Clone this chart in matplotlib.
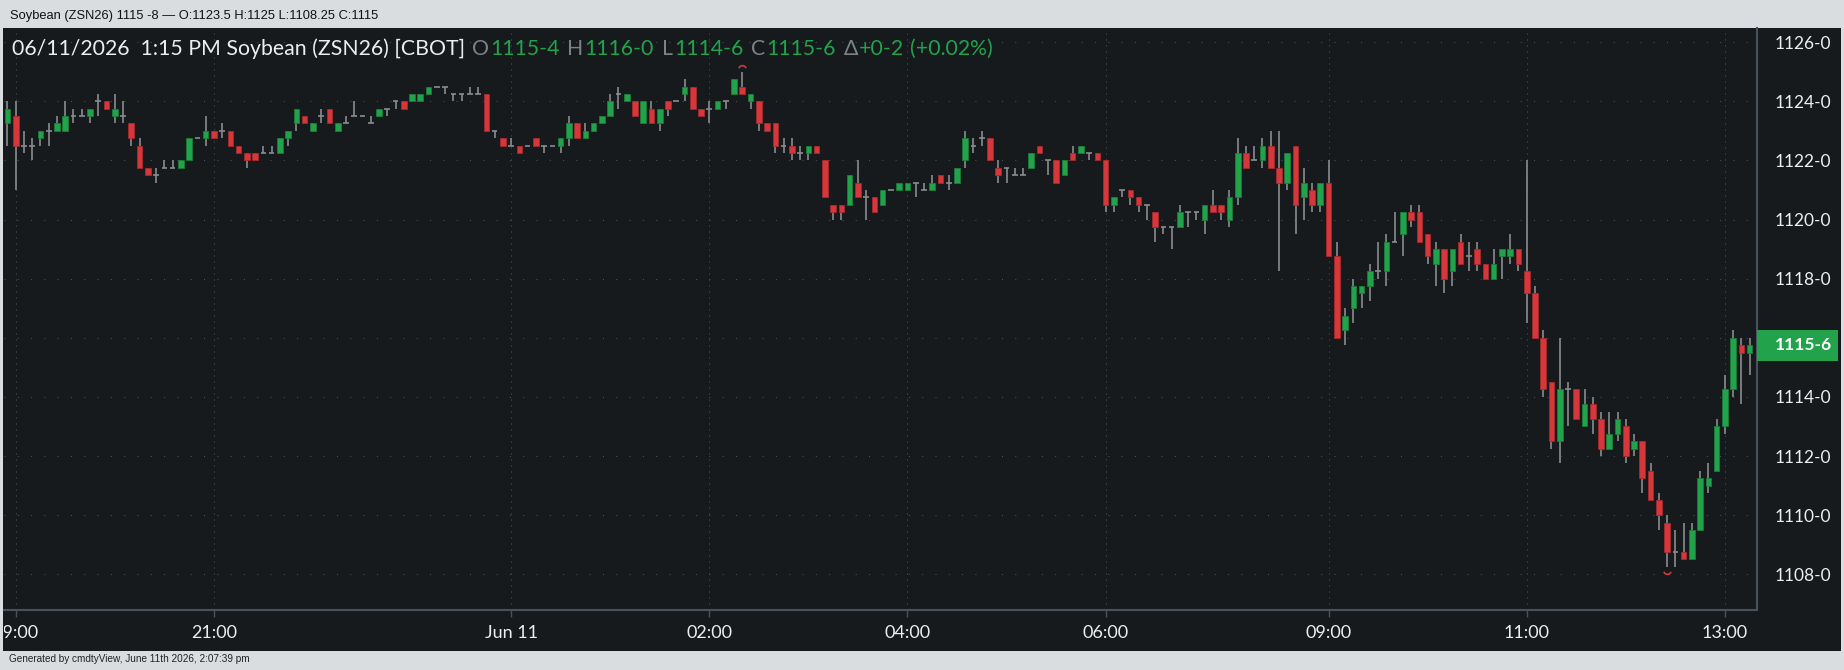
import matplotlib
matplotlib.use("Agg")
import matplotlib.pyplot as plt
import numpy as np
from matplotlib.patches import Rectangle
from matplotlib.path import Path
from matplotlib.transforms import Bbox, TransformedBbox, blended_transform_factory
from matplotlib.ticker import FuncFormatter

# 5 minute bars, ZSN26 (first bar = last bar of the previous day session)
opens = [1123.25, 1123.5, 1122.5, 1122.5, 1122.75, 1123.0, 1123.0, 1123.0, 1123.5, 1123.5,
         1123.5, 1124.0, 1124.0, 1123.5, 1123.5, 1123.25, 1122.5, 1121.75, 1121.5, 1121.75,
         1121.75, 1121.75, 1122.0, 1122.75, 1122.75, 1123.0, 1123.0, 1123.0, 1122.5, 1122.25,
         1122.25, 1122.25, 1122.25, 1122.25, 1122.75, 1123.25, 1123.5, 1123.0, 1123.5, 1123.75,
         1123.0, 1123.25, 1123.5, 1123.5, 1123.25, 1123.5, 1123.75, 1124.0, 1124.0, 1124.0,
         1124.0, 1124.25, 1124.5, 1124.5, 1124.25, 1124.25, 1124.25, 1124.25, 1124.25, 1123.0,
         1122.75, 1122.5, 1122.5, 1122.5, 1122.75, 1122.5, 1122.5, 1122.5, 1122.75, 1123.25,
         1122.75, 1123.0, 1123.25, 1123.5, 1124.25, 1124.0, 1124.0, 1123.25, 1123.75, 1123.25,
         1124.0, 1124.0, 1124.25, 1124.5, 1123.75, 1123.75, 1123.75, 1124.0, 1124.25, 1124.5,
         1124.0, 1124.0, 1123.25, 1123.25, 1122.5, 1122.5, 1122.25, 1122.25, 1122.5, 1122.0,
         1120.5, 1120.5, 1120.5, 1121.25, 1120.75, 1120.75, 1120.5, 1121.0, 1121.0, 1121.0,
         1121.25, 1121.0, 1121.0, 1121.5, 1121.25, 1121.25, 1122.0, 1122.5, 1122.75, 1122.75,
         1121.75, 1121.75, 1121.5, 1121.5, 1121.75, 1122.5, 1122.0, 1122.0, 1121.5, 1122.25,
         1122.25, 1122.25, 1122.25, 1122.0, 1120.5, 1121.0, 1121.0, 1120.75, 1120.5, 1120.25,
         1119.75, 1119.75, 1119.75, 1120.25, 1120.25, 1120.0, 1120.5, 1120.5, 1120.0, 1120.75,
         1122.25, 1122.0, 1122.0, 1122.5, 1121.75, 1121.25, 1122.5, 1120.75, 1121.0, 1120.5,
         1121.25, 1118.75, 1116.25, 1117.0, 1117.5, 1117.75, 1118.25, 1118.25, 1119.25, 1119.5,
         1120.25, 1120.25, 1119.5, 1118.5, 1119.0, 1118.25, 1119.25, 1118.75, 1119.0, 1118.5,
         1118.0, 1118.75, 1118.75, 1119.0, 1118.25, 1117.5, 1116.0, 1114.5, 1112.5, 1114.25,
         1114.25, 1113.0, 1113.75, 1113.25, 1112.25, 1112.75, 1113.0, 1112.25, 1112.5, 1111.5,
         1110.5, 1109.75, 1108.75, 1108.75, 1108.5, 1109.5, 1111.0, 1111.5, 1113.0, 1114.25,
         1115.75, 1115.5]
highs = [1124.0, 1124.0, 1123.0, 1122.75, 1123.0, 1123.25, 1123.5, 1124.0, 1123.75, 1123.75,
         1123.75, 1124.25, 1124.0, 1124.25, 1124.0, 1123.25, 1122.75, 1121.75, 1121.75, 1122.0,
         1122.0, 1122.0, 1122.75, 1122.75, 1123.5, 1123.0, 1123.25, 1123.0, 1122.5, 1122.25,
         1122.25, 1122.5, 1122.5, 1122.75, 1123.0, 1123.75, 1123.5, 1123.25, 1123.75, 1123.75,
         1123.25, 1123.5, 1124.0, 1123.5, 1123.5, 1123.75, 1123.75, 1124.0, 1124.0, 1124.25,
         1124.25, 1124.5, 1124.5, 1124.5, 1124.25, 1124.25, 1124.5, 1124.5, 1124.25, 1123.0,
         1122.75, 1122.75, 1122.5, 1122.5, 1122.75, 1122.5, 1122.5, 1122.75, 1123.5, 1123.25,
         1123.25, 1123.25, 1123.5, 1124.25, 1124.5, 1124.25, 1124.0, 1124.0, 1124.0, 1123.75,
         1124.0, 1124.0, 1124.75, 1124.5, 1123.75, 1124.0, 1124.0, 1124.0, 1124.75, 1125.0,
         1124.25, 1124.0, 1123.25, 1123.25, 1122.75, 1122.75, 1122.5, 1122.5, 1122.5, 1122.0,
         1120.5, 1120.5, 1121.5, 1122.0, 1121.0, 1120.75, 1121.0, 1121.0, 1121.25, 1121.25,
         1121.25, 1121.25, 1121.5, 1121.5, 1121.5, 1121.75, 1123.0, 1122.75, 1123.0, 1122.75,
         1122.0, 1121.75, 1121.75, 1121.75, 1122.25, 1122.5, 1122.0, 1122.0, 1122.0, 1122.5,
         1122.5, 1122.25, 1122.25, 1122.0, 1120.75, 1121.0, 1121.0, 1120.75, 1120.5, 1120.25,
         1119.75, 1119.75, 1120.5, 1120.25, 1120.25, 1120.5, 1121.0, 1120.5, 1121.0, 1122.75,
         1122.5, 1122.5, 1122.75, 1123.0, 1123.0, 1122.25, 1122.5, 1121.75, 1121.25, 1121.25,
         1122.0, 1119.25, 1117.0, 1118.0, 1117.75, 1118.5, 1119.25, 1119.5, 1120.25, 1120.25,
         1120.5, 1120.5, 1119.5, 1119.25, 1119.0, 1119.0, 1119.5, 1119.25, 1119.25, 1118.5,
         1119.0, 1119.0, 1119.5, 1119.0, 1122.0, 1117.75, 1116.25, 1114.5, 1116.0, 1114.5,
         1114.25, 1114.25, 1114.0, 1113.5, 1113.5, 1113.5, 1113.25, 1112.75, 1112.5, 1111.75,
         1110.75, 1110.0, 1109.5, 1109.75, 1109.75, 1111.5, 1111.75, 1113.25, 1114.75, 1116.25,
         1116.0, 1116.0]
lows = [1122.5, 1121.0, 1122.25, 1122.0, 1122.5, 1122.5, 1123.0, 1123.0, 1123.25, 1123.5,
        1123.25, 1123.5, 1123.75, 1123.25, 1123.25, 1122.5, 1121.75, 1121.5, 1121.25, 1121.75,
        1121.75, 1121.75, 1122.0, 1122.75, 1122.5, 1122.75, 1122.75, 1122.5, 1122.25, 1121.75,
        1122.0, 1122.25, 1122.25, 1122.25, 1122.5, 1123.0, 1123.25, 1123.0, 1123.25, 1123.25,
        1123.0, 1123.25, 1123.5, 1123.5, 1123.25, 1123.5, 1123.5, 1123.75, 1123.75, 1124.0,
        1124.0, 1124.25, 1124.5, 1124.25, 1124.0, 1124.0, 1124.25, 1124.25, 1123.0, 1122.75,
        1122.5, 1122.5, 1122.25, 1122.5, 1122.5, 1122.25, 1122.5, 1122.25, 1122.5, 1122.75,
        1122.75, 1123.0, 1123.25, 1123.5, 1123.75, 1124.0, 1123.5, 1123.25, 1123.25, 1123.0,
        1123.5, 1124.0, 1124.0, 1123.75, 1123.5, 1123.25, 1123.75, 1123.75, 1124.25, 1124.25,
        1123.75, 1123.0, 1123.0, 1122.25, 1122.25, 1122.0, 1122.0, 1122.0, 1122.25, 1120.75,
        1120.0, 1120.0, 1120.5, 1120.75, 1120.0, 1120.25, 1120.5, 1121.0, 1121.0, 1121.0,
        1120.75, 1121.0, 1121.0, 1121.25, 1121.0, 1121.25, 1121.75, 1122.25, 1122.5, 1122.0,
        1121.25, 1121.25, 1121.5, 1121.5, 1121.75, 1122.25, 1121.5, 1121.25, 1121.5, 1122.0,
        1122.25, 1122.0, 1122.0, 1120.25, 1120.25, 1120.75, 1120.5, 1120.25, 1120.0, 1119.25,
        1119.5, 1119.0, 1119.75, 1119.75, 1120.0, 1119.5, 1120.25, 1120.0, 1119.75, 1120.5,
        1121.75, 1122.0, 1121.75, 1121.75, 1118.25, 1121.0, 1119.5, 1120.0, 1120.25, 1120.25,
        1118.75, 1116.0, 1115.75, 1116.5, 1117.0, 1117.25, 1118.0, 1117.75, 1119.25, 1118.75,
        1119.75, 1119.25, 1118.5, 1117.75, 1117.5, 1117.75, 1118.5, 1118.25, 1118.25, 1118.0,
        1118.0, 1118.0, 1118.5, 1118.25, 1116.5, 1116.0, 1114.0, 1112.25, 1111.75, 1113.0,
        1113.25, 1113.0, 1112.75, 1112.0, 1112.25, 1112.5, 1111.75, 1112.0, 1110.75, 1110.5,
        1109.5, 1108.25, 1108.25, 1108.5, 1108.5, 1109.5, 1110.75, 1111.5, 1112.75, 1114.0,
        1113.75, 1114.75]
closes = [1123.75, 1122.5, 1122.5, 1122.5, 1123.0, 1123.0, 1123.25, 1123.5, 1123.5, 1123.5,
          1123.75, 1124.0, 1123.75, 1123.75, 1123.5, 1122.75, 1121.75, 1121.5, 1121.5, 1121.75,
          1121.75, 1122.0, 1122.75, 1122.75, 1123.0, 1122.75, 1123.0, 1122.5, 1122.25, 1122.0,
          1122.0, 1122.25, 1122.25, 1122.75, 1123.0, 1123.75, 1123.25, 1123.25, 1123.5, 1123.25,
          1123.25, 1123.25, 1123.5, 1123.5, 1123.25, 1123.75, 1123.75, 1124.0, 1123.75, 1124.25,
          1124.25, 1124.5, 1124.5, 1124.5, 1124.25, 1124.25, 1124.25, 1124.25, 1123.0, 1123.0,
          1122.5, 1122.5, 1122.25, 1122.5, 1122.5, 1122.5, 1122.5, 1122.75, 1123.25, 1122.75,
          1123.0, 1123.25, 1123.5, 1124.0, 1124.25, 1124.25, 1123.5, 1124.0, 1123.25, 1123.75,
          1123.75, 1124.0, 1124.5, 1123.75, 1123.5, 1123.75, 1124.0, 1124.0, 1124.75, 1124.25,
          1124.25, 1123.25, 1123.0, 1122.5, 1122.5, 1122.25, 1122.25, 1122.5, 1122.25, 1120.75,
          1120.25, 1120.25, 1121.5, 1120.75, 1120.75, 1120.25, 1121.0, 1121.0, 1121.25, 1121.25,
          1121.25, 1121.0, 1121.25, 1121.25, 1121.25, 1121.75, 1122.75, 1122.5, 1122.75, 1122.0,
          1121.5, 1121.75, 1121.5, 1121.5, 1122.25, 1122.25, 1122.0, 1121.25, 1122.0, 1122.0,
          1122.5, 1122.25, 1122.0, 1120.5, 1120.75, 1121.0, 1120.75, 1120.5, 1120.5, 1119.75,
          1119.75, 1119.75, 1120.25, 1120.25, 1120.25, 1120.5, 1120.25, 1120.25, 1120.75, 1122.25,
          1121.75, 1122.0, 1122.5, 1121.75, 1121.25, 1122.25, 1120.5, 1121.25, 1120.5, 1121.25,
          1118.75, 1116.0, 1116.75, 1117.75, 1117.75, 1118.25, 1118.25, 1119.25, 1119.25, 1120.25,
          1120.0, 1119.25, 1118.75, 1119.0, 1118.0, 1119.0, 1118.5, 1118.75, 1118.5, 1118.0,
          1118.5, 1119.0, 1119.0, 1118.5, 1117.5, 1116.0, 1114.25, 1112.5, 1114.25, 1114.25,
          1113.25, 1113.75, 1113.25, 1112.25, 1112.75, 1113.25, 1112.0, 1112.5, 1111.25, 1110.5,
          1110.0, 1108.75, 1108.75, 1108.5, 1109.5, 1111.25, 1111.25, 1113.0, 1114.25, 1116.0,
          1115.5, 1115.75]


def session(start, end, step=5):
    return ["%02d:%02d" % ((m // 60) % 24, m % 60) for m in range(start, end + 1, step)]


bar_times = ["13:15"] + session(19 * 60, 31 * 60 + 40) + session(8 * 60 + 30, 13 * 60 + 15)
tick_times = ["19:00", "21:00", "00:00", "02:00", "04:00", "06:00", "09:00", "11:00", "13:00"]
tick_labels = ["19:00", "21:00", "Jun 11", "02:00", "04:00", "06:00", "09:00", "11:00", "13:00"]
price_ticks = list(range(1108, 1127, 2))

top_title = "Soybean (ZSN26) 1115 -8 \u2014 O:1123.5 H:1125 L:1108.25 C:1115"
chart_title = "06/11/2026  1:15 PM Soybean (ZSN26) [CBOT]"
footer = "Generated by cmdtyView, June 11th 2026, 2:07:39 pm"

# colours
BG = "#161a1d"
FRAME = "#d9dde0"
GREEN = "#22a24a"
RED = "#d5373b"
WICK = "#8a8d90"
GRID = "#4b545d"
BORDER = "#46535f"
TXT = "#eceeef"
DIM = "#7d8287"

plt.rcParams["font.family"] = ["Lato", "DejaVu Sans"]

W, H = 1844, 670
fig = plt.figure(figsize=(W / 100, H / 100), dpi=100, facecolor=FRAME)
fig.add_artist(Rectangle((3 / W, (H - 651) / H), (1841 - 3) / W, (651 - 28) / H,
                         transform=fig.transFigure, facecolor=BG, edgecolor="none", zorder=0))

ax = fig.add_axes([4 / W, (H - 610) / H, (1756.5 - 4) / W, (610 - 28) / H])
ax.set_facecolor(BG)

o = np.array(opens)
h = np.array(highs)
l = np.array(lows)
c = np.array(closes)
x = np.arange(len(o))
up = c > o
dn = c < o
flat = c == o
bw = 0.68

ax.vlines(x, l, h, color=WICK, lw=1.2, zorder=2)
ax.bar(x[up], (c - o)[up], bottom=o[up], width=bw, color=GREEN, edgecolor="#1a7d39", lw=0.6, zorder=3)
ax.bar(x[dn], (c - o)[dn], bottom=o[dn], width=bw, color=RED, edgecolor="#a52a2d", lw=0.6, zorder=3)
ax.hlines(o[flat], x[flat] - bw / 2, x[flat] + bw / 2, color=WICK, lw=1.2, zorder=3)

# session high / low markers
ih, il = int(np.argmax(h)), int(np.argmin(l))
ax.plot(ih, h[ih] + 0.1, marker=Path.arc(20, 160), ms=5.5, mfc="none", mec=RED, mew=1.2, ls="none", zorder=4)
ax.plot(il, l[il] - 0.1, marker=Path.arc(200, 340), ms=5.5, mfc="none", mec=RED, mew=1.2, ls="none", zorder=4)

ax.set_xlim(-0.417, 211.83)
ax.set_ylim(1106.79, 1126.48)

tick_pos = [bar_times.index(t) for t in tick_times]
ax.set_xticks(tick_pos)
ax.tick_params(axis="x", length=5, width=1, color=BORDER, labelbottom=False)
ax.set_yticks(price_ticks)


def fmt(p, pos=None):
    whole = int(np.floor(p))
    return "%d-%d" % (whole, int(round((p - whole) * 8)))


ax.yaxis.set_major_formatter(FuncFormatter(fmt))
ax.yaxis.tick_right()
ax.tick_params(axis="y", length=0, pad=13, labelsize=12.5, labelcolor=TXT)
ax.grid(axis="y", color=GRID, lw=0.72, linestyle=(0, (1, 12.3)))
ax.grid(axis="x", color=GRID, lw=0.72, linestyle=(0, (1, 5)))
ax.set_axisbelow(True)

for side in ["top", "left"]:
    ax.spines[side].set_visible(False)
for side in ["right", "bottom"]:
    ax.spines[side].set_color(BORDER)
    ax.spines[side].set_linewidth(1.5)

# x labels, clipped at the panel edge
clip = TransformedBbox(Bbox.from_extents(3.5 / W, 0, 1, 1), fig.transFigure)
bt = blended_transform_factory(ax.transData, ax.transAxes)
for p, lab in zip(tick_pos, tick_labels):
    t = ax.text(p, -0.04, lab, transform=bt, ha="center", va="center", fontsize=13, color=TXT)
    t.set_clip_box(clip)
    t.set_clip_on(True)

# last price box
bt2 = blended_transform_factory(ax.transAxes, ax.transData)
ax.add_patch(Rectangle((1.0, c[-1] - 0.525), (1838 - 1756.5) / 1752.5, 1.05, transform=bt2,
                       facecolor=GREEN, edgecolor="none", clip_on=False, zorder=5))
ax.text((1803 - 4) / 1752.5, c[-1], fmt(c[-1]), transform=bt2, ha="center", va="center",
        fontsize=12.5, fontweight="bold", color="white", zorder=6)

# header line inside the chart
chg = c[-1] - c[-2]
pct = chg / c[-2] * 100
segments = [(chart_title, TXT, 7), ("O", DIM, 1), (fmt(o[-1]), GREEN, 8), ("H", DIM, 1),
            (fmt(h[-1]), GREEN, 8), ("L", DIM, 1), (fmt(l[-1]), GREEN, 8), ("C", DIM, 1),
            (fmt(c[-1]), GREEN, 8), ("\u0394", DIM, 1),
            ("+" + fmt(chg), GREEN, 6), ("(+%.2f%%)" % pct, GREEN, 0)]
renderer = fig.canvas.get_renderer()
xp = 12
for s, col, gap in segments:
    t = fig.text(xp / W, (H - 55) / H, s, color=col, fontsize=15.3, va="baseline", ha="left")
    xp = t.get_window_extent(renderer).x1 + gap

fig.text(10 / W, (H - 18.5) / H, top_title, fontsize=9.3, family="Liberation Sans",
         color="#111111", va="baseline")
fig.text(9 / W, (H - 662) / H, footer, fontsize=7.2, family="Liberation Sans",
         color="#222222", va="baseline")

fig.savefig("out.png", dpi=100, facecolor=FRAME)
